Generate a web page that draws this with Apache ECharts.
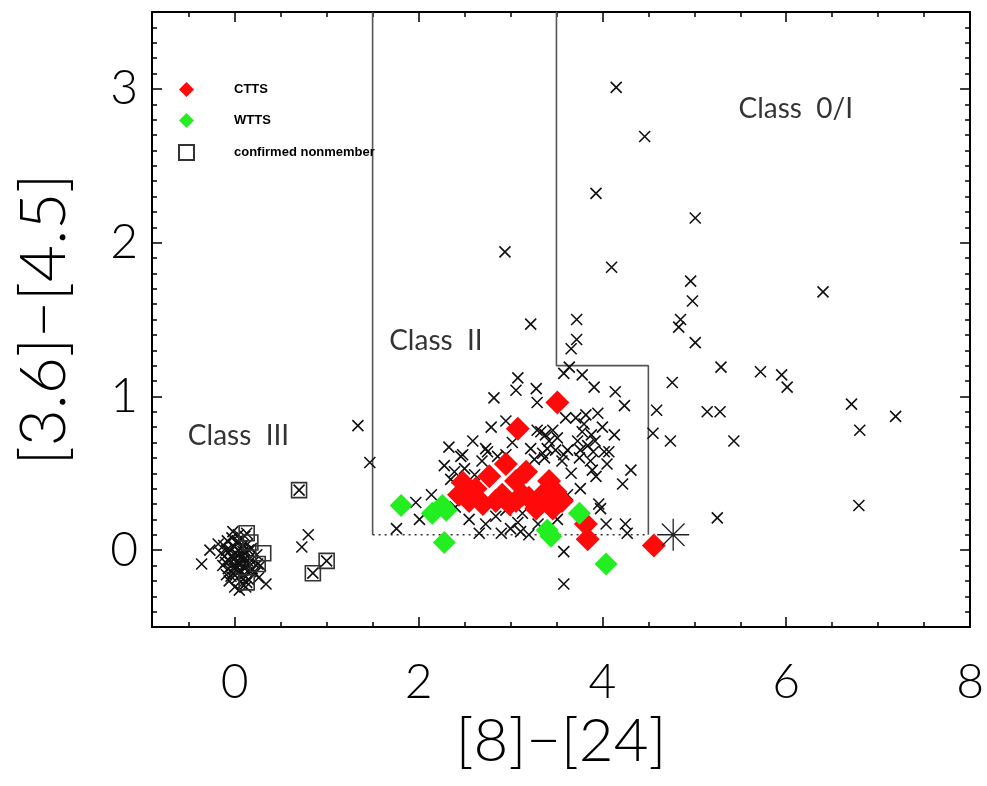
<!DOCTYPE html>
<html><head><meta charset="utf-8">
<script src="https://cdn.jsdelivr.net/npm/echarts@6/dist/echarts.min.js"></script>
<style>html,body{margin:0;padding:0;background:#fff}#c{width:987px;height:786px}</style>
</head><body><div id="c"></div>
<script>
// ---- data ----
const allSources = [
[4.15,3.01],[4.46,2.69],[3.93,2.32],[5.01,2.16],[4.10,1.84],[6.40,1.68],[4.96,1.75],[4.98,1.62],[3.72,1.50],[4.85,1.50],[4.83,1.45],[3.72,1.37],[3.66,1.31],[5.01,1.35],[3.58,1.15],[3.64,1.19],[3.78,1.14],[3.91,1.06],[4.14,1.03],[4.24,0.94],[4.76,1.09],[5.29,1.19],[5.72,1.16],[5.95,1.14],[6.01,1.06],[4.59,0.91],[4.55,0.76],[4.74,0.71],[5.14,0.90],[5.28,0.90],[5.43,0.71],[6.71,0.95],[6.80,0.78],[7.19,0.87],[6.79,0.29],[5.25,0.21],[2.94,1.94],[3.22,1.47],[1.34,0.81],[1.47,0.57],[3.58,-0.22],[3.58,-0.01],
[3.08,1.12],[3.06,1.04],[2.82,0.99],[3.28,1.05],[3.29,0.96],[2.79,0.80],[2.95,0.84],
[3.29,0.78],[3.38,0.75],[3.46,0.78],[3.60,0.86],[3.33,0.77],[3.40,0.66],[3.51,0.73],[3.26,0.59],[3.37,0.60],[3.58,0.62],[3.66,0.50],
[3.78,0.77],[3.73,0.71],[3.84,0.68],[3.71,0.86],[3.95,0.89],[4.13,0.75],[4.02,0.64],[3.87,0.58],[4.05,0.56],[4.31,0.52],[4.22,0.43],
[3.80,0.82],[3.88,0.75],[3.92,0.71],[3.82,0.88],[4.00,0.80],[3.76,0.65],[3.90,0.64],
[2.59,0.71],[2.33,0.67],[2.48,0.62],[2.73,0.66],[2.86,0.61],[3.02,0.70],[3.22,0.66],[3.35,0.63],[3.49,0.65],[3.62,0.65],[3.42,0.71],[3.56,0.58],[3.75,0.60],[4.07,0.64],[3.89,0.52],[3.93,0.48],
[2.28,0.55],[2.39,0.51],[2.61,0.49],[2.35,0.46],[2.46,0.61],[2.75,0.64],[2.50,0.53],[2.69,0.58],[2.95,0.62],
[1.76,0.14],[1.97,0.31],[2.01,0.20],[2.14,0.36],[2.66,0.11],[2.90,0.11],[3.00,0.14],[2.73,0.17],[2.84,0.22],[3.08,0.18],[3.11,0.12],[3.13,0.24],[2.95,0.26],
[3.76,0.40],[3.62,0.36],[3.96,0.30],[3.98,0.27],[4.04,0.17],[4.25,0.17],[4.27,0.11],[3.47,0.30],[3.51,0.20],[3.30,0.17],[3.20,0.10],[2.55,0.20],[2.40,0.28],
[-0.36,-0.09],[-0.27,0.00],[0.34,-0.22],[0.80,0.10],[0.73,0.02],
[0.70,0.39],[0.13,0.11],[0.85,-0.15],[1.00,-0.07],[0.25,-0.09],[0.13,-0.21],
[-0.15,-0.02],[-0.12,0.03],[-0.10,-0.08],[-0.08,0.06],[-0.07,-0.12],[-0.05,0.00],[-0.04,-0.04],[-0.03,0.08],[-0.02,-0.15],[-0.01,-0.06],[0.00,0.02],[0.01,-0.10],[0.02,0.05],[0.03,-0.03],[0.03,-0.18],[0.04,0.00],[0.05,-0.08],[0.06,0.07],[0.06,-0.13],[0.07,-0.02],[0.08,-0.22],[0.09,0.03],[0.10,-0.06],[0.10,-0.16],[0.11,0.09],[0.12,-0.01],[0.13,-0.10],[0.14,0.04],[0.15,-0.19],[0.16,-0.05],[0.18,0.01],[0.19,-0.12],[0.20,-0.08],[0.22,-0.15],[0.24,-0.03],[-0.06,-0.20],[0.00,-0.24],[0.05,-0.26],[-0.09,-0.16],[0.02,-0.08],[0.08,-0.04],[-0.02,0.12],[0.04,0.10],[-0.11,-0.04],[0.12,-0.24],[0.26,-0.18],[0.28,-0.10],[-0.18,0.04],
[-0.13,-0.10],[-0.06,-0.07],[0.01,-0.02],[0.04,-0.14],[0.07,-0.09],[0.09,-0.19],[0.11,-0.12],[0.14,-0.07],[0.17,-0.14],[0.00,-0.12],[-0.04,-0.17],[0.06,-0.05],[0.15,0.00],[-0.09,0.00],[0.03,0.06],[0.09,-0.01]
];
const ctts = [
[3.51,0.96],[3.08,0.79],[2.77,0.48],[2.95,0.56],[3.17,0.51],[3.06,0.45],[2.52,0.38],[2.44,0.36],[2.48,0.44],[2.62,0.40],[2.55,0.32],[2.70,0.30],[2.84,0.32],[2.91,0.36],[2.99,0.30],[3.06,0.32],[3.13,0.36],[3.20,0.34],[3.42,0.45],[3.49,0.38],[3.56,0.32],[3.35,0.32],[3.28,0.27],[3.46,0.27],[3.38,0.38],[3.82,0.17],[3.84,0.07],[4.56,0.03]
];
const wtts = [
[1.81,0.29],[2.15,0.24],[2.26,0.29],[2.30,0.26],[2.28,0.05],[3.75,0.24],[3.44,0.09],[3.40,0.13],[4.04,-0.09]
];
const nonmembers = [
[0.70,0.39],[0.13,0.11],[0.17,0.05],[0.31,-0.02],[0.25,-0.09],[0.13,-0.21],[0.85,-0.15],[1.00,-0.07]
];
const specialSource = [[4.77,0.10]];
const classIILeftEdge = [[1.5,3.5],[1.5,0.1]];
const classIIRightEdge = [[3.5,3.5],[3.5,1.2],[4.5,1.2],[4.5,0.1]];
const classIIFloor = [[1.5,0.1],[4.5,0.1]];
const regionNames = ['Class  III','Class  II','Class  0/I'];
const regionPos = [[-0.51,0.74],[1.68,1.36],[5.48,2.87]];
const xRange = [-0.9, 8];
const yRange = [-0.5, 3.5];
const xTitle = '[8]\u2212[24]';
const yTitle = '[3.6]\u2212[4.5]';
const legendNames = ['CTTS','WTTS','confirmed nonmember'];

// ---- chart ----
const FONT = 'Lato';
const chart = echarts.init(document.getElementById('c'), null, {renderer:'canvas'});
const lineStyleAx = {color:'#000', width:2};
function intLabel(step, lo, hi){
  return function(v){
    const r = Math.round(v);
    if (Math.abs(v - r) > 1e-6) return '';
    if (r % step !== 0 || r < lo || r > hi) return '';
    return String(r);
  };
}
function xAx(pos, minor, labels){
  return {
    type:'value', min:xRange[0], max:xRange[1], position:pos,
    splitNumber: minor ? 18 : 5,
    axisLine:{show:!minor, lineStyle:lineStyleAx, onZero:false},
    axisTick:{show:true, inside:true, length: minor?5:10, lineStyle:{color:'#000', width:1.5}},
    splitLine:{show:false},
    axisLabel: labels ? {show:true, formatter:intLabel(2,0,8), fontSize:48, fontFamily:FONT, fontWeight:300, color:'#000', margin:32, showMinLabel:true, showMaxLabel:true} : {show:false},
    name: labels ? xTitle : '', nameLocation:'middle', nameGap:84,
    nameTextStyle:{fontSize:60, fontFamily:FONT, fontWeight:300, color:'#000'}
  };
}
function yAx(pos, minor, labels){
  const o = {
    type:'value', min:yRange[0], max:yRange[1], position:pos,
    axisLine:{show:!minor, lineStyle:lineStyleAx, onZero:false},
    axisTick:{show:true, inside:true, length: minor?5:10, lineStyle:{color:'#000', width:1.5}},
    splitLine:{show:false},
    axisLabel: labels ? {show:true, formatter:intLabel(1,0,3), fontSize:48, fontFamily:FONT, fontWeight:300, color:'#000', margin:14} : {show:false},
    name: labels ? yTitle : '', nameLocation:'middle', nameGap:76, nameRotate:90,
    nameTextStyle:{fontSize:64, fontFamily:FONT, fontWeight:300, color:'#000'}
  };
  if (minor) o.interval = 0.1; else o.splitNumber = 4;
  return o;
}
const crossPath = 'path://M0,0L10,10M0,10L10,0';
const starPath = 'path://M5,0L5,10M0,5L10,5M1.46,1.46L8.54,8.54M1.46,8.54L8.54,1.46';
const boundaryStyle = {color:'#555', width:1.6};
const option = {
  backgroundColor:'#fff',
  animation:false,
  grid:{left:152, right:14, top:12, bottom:159, containLabel:false},
  xAxis:[xAx('bottom',false,true), xAx('bottom',true,false), xAx('top',false,false), xAx('top',true,false)],
  yAxis:[yAx('left',false,true), yAx('left',true,false), yAx('right',false,false), yAx('right',true,false)],
  legend:{
    data:legendNames, orient:'vertical', left:173, top:77,
    itemWidth:15, itemHeight:15, itemGap:16, selectedMode:false,
    textStyle:{fontSize:13, fontWeight:'bold', fontFamily:'Liberation Sans', color:'#000', padding:[0,0,0,35]}
  },
  series:[
    {type:'line', data:classIILeftEdge, showSymbol:false, symbol:'none', silent:true, lineStyle:boundaryStyle, z:1},
    {type:'line', data:classIIRightEdge, showSymbol:false, symbol:'none', silent:true, lineStyle:boundaryStyle, z:1},
    {type:'line', data:classIIFloor, showSymbol:false, symbol:'none', silent:true, lineStyle:{color:'#333', width:1.6, type:[2,4]}, z:1},
    {name:'sources', type:'scatter', data:allSources, symbol:crossPath, symbolSize:11,
     itemStyle:{color:'rgba(0,0,0,0)', borderColor:'#111', borderWidth:1.6, opacity:1}, z:2},
    {name:'CTTS', type:'scatter', data:ctts, symbol:'diamond', symbolSize:24,
     itemStyle:{color:'#ff0a0a', opacity:1}, z:3},
    {name:'WTTS', type:'scatter', data:wtts, symbol:'diamond', symbolSize:23,
     itemStyle:{color:'#22ee22', opacity:1}, z:3},
    {name:'confirmed nonmember', type:'scatter', data:nonmembers, symbol:'rect', symbolSize:15,
     itemStyle:{color:'rgba(255,255,255,0)', borderColor:'#333', borderWidth:1.6, opacity:1}, z:4},
    {name:'special', type:'scatter', data:specialSource, symbol:starPath, symbolSize:32,
     itemStyle:{color:'rgba(0,0,0,0)', borderColor:'#222', borderWidth:1.3, opacity:1}, z:4},
    {name:'regions', type:'scatter', silent:true, symbolSize:1, itemStyle:{color:'rgba(0,0,0,0)'},
     data: regionNames.map((n,i)=>({name:n, value:regionPos[i]})),
     label:{show:true, position:'inside', align:'left', verticalAlign:'middle', formatter:'{b}', fontSize:28, fontFamily:FONT, fontWeight:400, color:'#000'}, z:5}
  ]
};
chart.setOption(option);
</script></body></html>
